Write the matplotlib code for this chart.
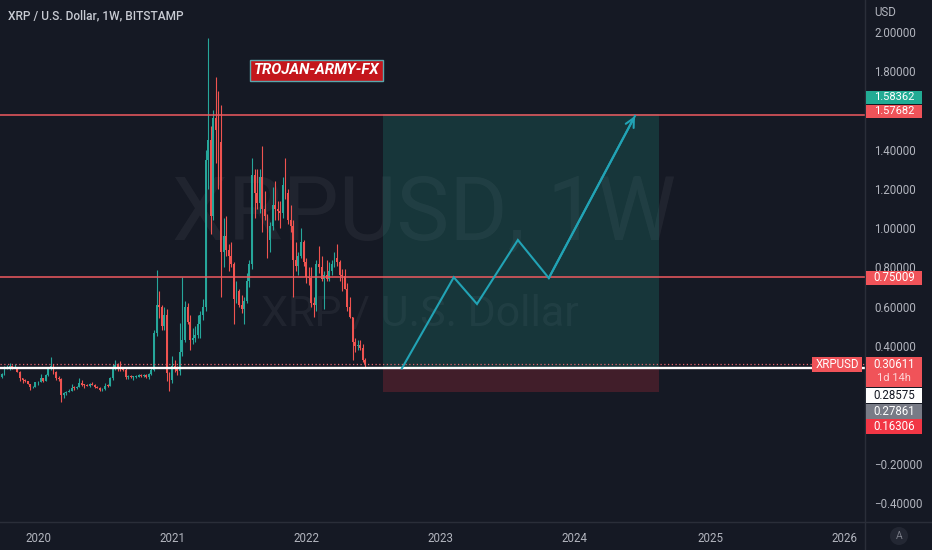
import matplotlib
matplotlib.use("Agg")
import matplotlib.pyplot as plt
from matplotlib.patches import Rectangle, Circle
from matplotlib.lines import Line2D
import numpy as np
import pandas as pd

plt.rcParams['font.family'] = ['Roboto', 'DejaVu Sans']

# ---------------- data ----------------
title = "XRP / U.S. Dollar, 1W, BITSTAMP"
symbol = "XRPUSD"
watermark_1 = "XRPUSD, 1W"
watermark_2 = "XRP / U.S. Dollar"
author_tag = "TROJAN-ARMY-FX"

first_week = "2019-09-23"
opens = [
    0.262, 0.243, 0.258, 0.290, 0.292, 0.296, 0.290, 0.292, 0.268, 0.236, 0.228, 0.220, 0.207, 0.189, 0.192,
    0.214, 0.217, 0.236, 0.224, 0.252, 0.287, 0.300, 0.268, 0.236, 0.230, 0.150, 0.158, 0.168, 0.173, 0.188,
    0.187, 0.193, 0.213, 0.202, 0.200, 0.198, 0.205, 0.203, 0.190, 0.188, 0.176, 0.181, 0.198, 0.197, 0.235,
    0.292, 0.305, 0.290, 0.283, 0.280, 0.243, 0.245, 0.241, 0.242, 0.243, 0.254, 0.246, 0.250, 0.240, 0.258,
    0.280, 0.465, 0.610, 0.600, 0.500, 0.560, 0.260,
    0.225, 0.296, 0.282, 0.270, 0.370, 0.430, 0.600, 0.520, 0.430, 0.440, 0.455, 0.510, 0.560, 0.600, 1.350,
    1.450, 1.060, 1.560, 1.500, 1.440, 0.880, 0.960, 0.890, 0.860, 0.820, 0.640, 0.680, 0.610, 0.590, 0.630,
    0.730, 0.820, 1.270, 1.180, 1.130, 1.260, 1.100, 1.060, 0.940, 1.010, 1.120, 1.100, 1.090, 1.080, 1.220,
    1.180, 1.040, 1.010, 0.840, 0.810, 0.860, 0.930,
    0.830, 0.750, 0.745, 0.620, 0.610, 0.820, 0.800, 0.740, 0.760, 0.740, 0.780, 0.820, 0.850, 0.830, 0.760,
    0.755, 0.690, 0.600, 0.550, 0.420, 0.400, 0.405, 0.390, 0.330,
]
highs = [
    0.266, 0.262, 0.300, 0.302, 0.312, 0.305, 0.310, 0.294, 0.270, 0.238, 0.232, 0.224, 0.208, 0.196, 0.216,
    0.222, 0.258, 0.239, 0.257, 0.292, 0.345, 0.310, 0.270, 0.247, 0.236, 0.168, 0.172, 0.182, 0.207, 0.196,
    0.198, 0.236, 0.226, 0.206, 0.208, 0.210, 0.215, 0.206, 0.196, 0.191, 0.186, 0.210, 0.205, 0.240, 0.310,
    0.330, 0.312, 0.325, 0.295, 0.290, 0.250, 0.252, 0.245, 0.250, 0.258, 0.257, 0.257, 0.258, 0.262, 0.290,
    0.480, 0.785, 0.680, 0.610, 0.600, 0.590, 0.265,
    0.350, 0.330, 0.300, 0.515, 0.750, 0.630, 0.620, 0.560, 0.490, 0.500, 0.560, 0.580, 0.640, 1.400, 1.970,
    1.520, 1.600, 1.770, 1.700, 1.630, 1.050, 1.060, 0.920, 0.930, 0.830, 0.730, 0.690, 0.660, 0.650, 0.770,
    0.840, 1.360, 1.300, 1.300, 1.300, 1.420, 1.190, 1.070, 1.030, 1.210, 1.240, 1.140, 1.140, 1.260, 1.360,
    1.200, 1.120, 1.040, 0.930, 0.880, 1.000, 0.940,
    0.850, 0.800, 0.800, 0.650, 0.840, 0.910, 0.860, 0.780, 0.840, 0.830, 0.840, 0.880, 0.920, 0.840, 0.790,
    0.790, 0.720, 0.650, 0.550, 0.440, 0.430, 0.430, 0.410, 0.340,
]
lows = [
    0.236, 0.238, 0.253, 0.284, 0.276, 0.284, 0.286, 0.265, 0.220, 0.213, 0.214, 0.205, 0.176, 0.186, 0.190,
    0.203, 0.215, 0.214, 0.220, 0.246, 0.278, 0.255, 0.228, 0.220, 0.115, 0.136, 0.148, 0.164, 0.172, 0.178,
    0.180, 0.190, 0.198, 0.185, 0.195, 0.190, 0.200, 0.186, 0.184, 0.172, 0.173, 0.178, 0.193, 0.195, 0.228,
    0.280, 0.275, 0.270, 0.271, 0.230, 0.234, 0.238, 0.226, 0.236, 0.240, 0.243, 0.240, 0.235, 0.234, 0.250,
    0.275, 0.450, 0.540, 0.480, 0.480, 0.220, 0.170,
    0.210, 0.265, 0.250, 0.250, 0.350, 0.420, 0.510, 0.380, 0.410, 0.420, 0.440, 0.440, 0.530, 0.580, 1.200,
    0.970, 1.040, 1.330, 1.200, 0.650, 0.800, 0.860, 0.780, 0.800, 0.510, 0.620, 0.600, 0.570, 0.510, 0.620,
    0.700, 0.790, 1.050, 1.100, 1.080, 0.980, 1.040, 0.850, 0.880, 0.990, 1.040, 1.040, 1.000, 1.050, 1.150,
    1.020, 0.980, 0.650, 0.780, 0.760, 0.850, 0.810,
    0.720, 0.710, 0.600, 0.550, 0.580, 0.770, 0.730, 0.590, 0.730, 0.730, 0.760, 0.800, 0.810, 0.730, 0.680,
    0.690, 0.580, 0.540, 0.330, 0.370, 0.380, 0.380, 0.320, 0.290,
]
closes = [
    0.243, 0.258, 0.290, 0.292, 0.296, 0.290, 0.292, 0.268, 0.236, 0.228, 0.220, 0.207, 0.189, 0.192, 0.214,
    0.217, 0.236, 0.224, 0.252, 0.287, 0.300, 0.268, 0.236, 0.230, 0.150, 0.158, 0.168, 0.173, 0.188, 0.187,
    0.193, 0.213, 0.202, 0.200, 0.198, 0.205, 0.203, 0.190, 0.188, 0.176, 0.181, 0.198, 0.197, 0.235, 0.292,
    0.305, 0.290, 0.283, 0.280, 0.243, 0.245, 0.241, 0.242, 0.243, 0.254, 0.246, 0.250, 0.240, 0.258, 0.280,
    0.465, 0.610, 0.600, 0.500, 0.560, 0.260, 0.225,
    0.296, 0.282, 0.270, 0.370, 0.430, 0.600, 0.520, 0.430, 0.440, 0.455, 0.510, 0.560, 0.600, 1.350, 1.450,
    1.060, 1.560, 1.500, 1.440, 0.880, 0.960, 0.890, 0.860, 0.820, 0.640, 0.680, 0.610, 0.590, 0.630, 0.730,
    0.820, 1.270, 1.180, 1.130, 1.260, 1.100, 1.060, 0.940, 1.010, 1.120, 1.100, 1.090, 1.080, 1.220, 1.180,
    1.040, 1.010, 0.840, 0.810, 0.860, 0.930, 0.830,
    0.750, 0.745, 0.620, 0.610, 0.820, 0.800, 0.740, 0.760, 0.740, 0.780, 0.820, 0.850, 0.830, 0.760, 0.755,
    0.690, 0.600, 0.550, 0.420, 0.400, 0.405, 0.390, 0.330, 0.30611,
]

resistance_levels = [1.57682, 0.75009]
white_level = 0.28575
last_price = 0.30611
countdown = "1d 14h"
target_price = 1.58362
entry_price = 0.28575
stop_price = 0.16306
grey_level = 0.27861
box_dates = ["2022-08-01", "2024-08-19"]
path_dates = ["2022-09-20", "2023-02-08", "2023-04-12", "2023-08-01", "2023-10-24", "2024-06-14"]
path_prices = [0.2857, 0.7500, 0.6140, 0.9400, 0.7460, 1.5720]
tag_date = "2022-01-31"
tag_price = 1.804

year_dates = ["2020-01-06", "2021-01-04", "2022-01-03", "2023-01-02", "2024-01-01", "2025-01-06", "2026-01-05"]
year_labels = ["2020", "2021", "2022", "2023", "2024", "2025", "2026"]
# price scale labels visible in the reference (others hidden behind price tags)
price_ticks = [-0.4, -0.2, 0.4, 0.6, 0.8, 1.0, 1.2, 1.4, 1.8, 2.0]

# ---------------- style ----------------
BG = "#151924"
UP = "#26a69a"
DOWN = "#ef5350"
TXT = "#b2b5be"
SEP = "#2a2e39"
LINE_RED = "#ef5a5f"
PATH = "#22a3b5"

W, H = 932, 550
AX_R, AX_B = 865, 522

base = pd.Timestamp("2020-01-06")


def wk(d):
    return (pd.Timestamp(d) - base).days / 7.0


weeks = pd.date_range(first_week, periods=len(closes), freq="7D")
xs = np.array([wk(d) for d in weeks])
o = np.array(opens); h = np.array(highs); l = np.array(lows); c = np.array(closes)

fig = plt.figure(figsize=(W / 100, H / 100), dpi=100)
fig.patch.set_facecolor(BG)
ax = fig.add_axes([0, (H - AX_B) / H, AX_R / W, AX_B / H])
ax.set_facecolor(BG)
ax.set_xlim(-14.74, 320.8)
ax.set_ylim(-0.497, 2.163)
for s in ax.spines.values():
    s.set_visible(False)

# watermark
ax.text(0.490, 0.588, watermark_1, transform=ax.transAxes, ha='center', va='center',
        fontsize=64, color='white', alpha=0.05, zorder=0)
ax.text(0.486, 0.397, watermark_2, transform=ax.transAxes, ha='center', va='center',
        fontsize=31, color='white', alpha=0.05, zorder=0)

# position tool
bx0, bx1 = wk(box_dates[0]), wk(box_dates[1])
ax.add_patch(Rectangle((bx0, entry_price), bx1 - bx0, target_price - entry_price,
                       facecolor="#22ab94", alpha=0.2, lw=0, zorder=1))
ax.add_patch(Rectangle((bx0, stop_price), bx1 - bx0, entry_price - stop_price,
                       facecolor="#f23645", alpha=0.2, lw=0, zorder=1))

# candles
up = c >= o
cols = np.where(up, UP, DOWN)
ax.vlines(xs, l, h, colors=cols, lw=0.8, zorder=3)
ax.bar(xs, np.maximum(np.abs(c - o), 0.004), bottom=np.minimum(o, c), width=0.72,
       color=cols, lw=0, zorder=3)

# levels
for lv in resistance_levels:
    ax.axhline(lv, color=LINE_RED, lw=1.1, zorder=4)
ax.axhline(last_price, color="#e5636b", lw=0.9, ls=(0, (1, 2)), zorder=4)
ax.axhline(white_level, color="white", lw=1.7, zorder=4)

# projection path
px_ = [wk(d) for d in path_dates]
ax.plot(px_, path_prices, color=PATH, lw=1.5, zorder=5, solid_joinstyle='miter')
ax.annotate('', xy=(px_[-1], path_prices[-1]), xytext=(px_[-2], path_prices[-2]),
            arrowprops=dict(arrowstyle='->', color=PATH, lw=1.5, mutation_scale=16,
                            shrinkA=0, shrinkB=0), zorder=5)

# author tag
ax.text(wk(tag_date), tag_price, author_tag, ha='center', va='center', fontsize=10.8,
        fontweight='bold', fontstyle='italic', color='white', zorder=6,
        bbox=dict(boxstyle='square,pad=0.22', facecolor='#c4161c', edgecolor='#5aa7ad', lw=1))

# axes ticks
ax.yaxis.tick_right()
ax.set_yticks(price_ticks)
ax.set_yticklabels([("%.5f" % t).replace('-', '\u2212') for t in price_ticks])
ax.tick_params(axis='y', length=0, pad=6.5, labelsize=8.3, labelcolor=TXT)
ax.set_xticks([wk(d) for d in year_dates])
ax.set_xticklabels(year_labels)
ax.tick_params(axis='x', length=0, pad=7, labelsize=8.3, labelcolor=TXT)

# separators
fig.add_artist(Line2D([AX_R / W, AX_R / W], [0, 1], transform=fig.transFigure, color=SEP, lw=1))
fig.add_artist(Line2D([0, 1], [(H - AX_B) / H] * 2, transform=fig.transFigure, color=SEP, lw=1))

# title
fig.text(8 / W, 1 - 16 / H, title, ha='left', va='center', fontsize=8.6,
         fontweight='medium', color='#c8cbd3')
fig.text(874 / W, 1 - 13 / H, "USD", ha='left', va='center', fontsize=8.3, color=TXT)

# overlay for price labels (pixel space)
ov = fig.add_axes([0, 0, 1, 1], zorder=10)
ov.set_xlim(0, W)
ov.set_ylim(H, 0)
ov.axis('off')
ov.patch.set_alpha(0)


def py(p):
    return H - ax.transData.transform((0, p))[1]


def tag(xl, xr, yc, hgt, fc, txt, tc, fs=8.3):
    ov.add_patch(Rectangle((xl, yc - hgt / 2), xr - xl, hgt, facecolor=fc, lw=0))
    ov.text((xl + xr) / 2, yc, txt, ha='center', va='center', color=tc, fontsize=fs)


XL, XR, BH = 866, 922, 14.5
tag(XL, XR, py(target_price) - 16.5, 13, "#22ab94", "%.5f" % target_price, "white", fs=8.0)
tag(XL, XR, py(resistance_levels[0]) - 4.0, 13, "#f05359", "%.5f" % resistance_levels[0], "white", fs=8.0)
tag(XL, XR, py(resistance_levels[1]) + 0.5, BH, "#f05359", "%.5f" % resistance_levels[1], "white")
# last price with countdown
ylp = py(last_price)
ov.add_patch(Rectangle((XL, ylp - 7.5), XR - XL, 30, facecolor="#f05359", lw=0))
ov.text((XL + XR) / 2, ylp, "%.5f" % last_price, ha='center', va='center', color='white', fontsize=8.3)
ov.text((XL + XR) / 2, ylp + 14, countdown, ha='center', va='center', color='#fdd5d7', fontsize=8.0)
tag(812, 862, ylp, 15, "#f05359", symbol, "white")
tag(XL, XR, py(white_level) + 27.5, 15, "white", "%.5f" % white_level, "#131722")
tag(XL, XR, py(grey_level) + 41.5, 15, "#787b86", "%.5f" % grey_level, "white")
tag(XL, XR, py(stop_price) + 34, 15, "#f23645", "%.5f" % stop_price, "white")

# auto-scale button
ov.add_patch(Circle((899, 536), 9, facecolor="#232733", lw=0))
ov.text(899, 536, "A", ha='center', va='center', color="#787b86", fontsize=7.5)

fig.savefig("out.png", dpi=100, facecolor=BG)
